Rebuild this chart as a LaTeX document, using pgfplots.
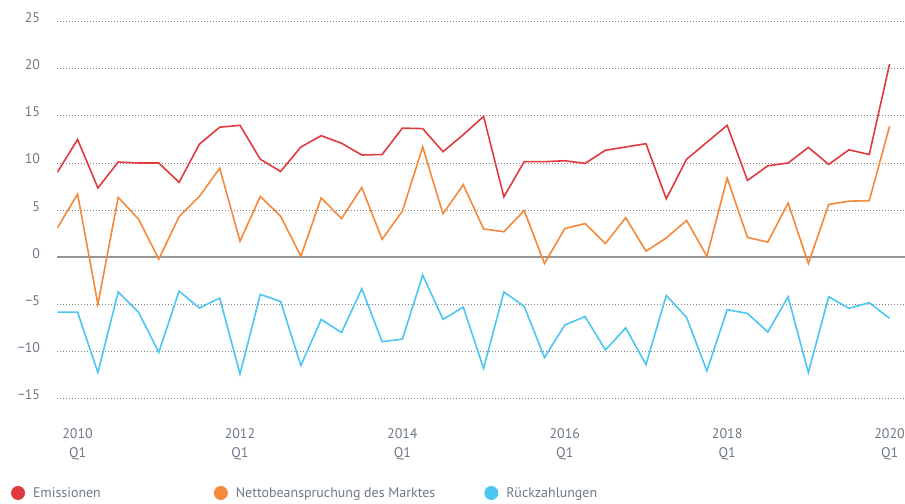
\documentclass[border=0pt]{standalone}
\usepackage{fontspec}
\setmainfont{PT Sans}
\usepackage{pgfplots}
\pgfplotsset{compat=1.18}
\definecolor{cred}{RGB}{224,58,62}
\definecolor{corange}{RGB}{245,137,58}
\definecolor{cblue}{RGB}{76,198,242}
\definecolor{ctick}{RGB}{110,120,135}
\definecolor{cgrid}{RGB}{128,128,128}
\pgfplotsset{
  circlelegend/.style={legend image code/.code={\fill[#1,draw=none] (7bp,0bp) circle (7bp);}}
}
\pgfplotstableread{
i em net rz
0 9.0 3.1 -5.83
1 12.5 6.7 -5.83
2 7.35 -5.0 -12.25
3 10.1 6.35 -3.7
4 10.0 4.05 -5.83
5 10.0 -0.2 -10.1
6 7.95 4.3 -3.6
7 12.0 6.45 -5.4
8 13.8 9.45 -4.34
9 14.0 1.7 -12.4
10 10.4 6.45 -3.95
11 9.1 4.35 -4.7
12 11.7 0.1 -11.5
13 12.9 6.3 -6.6
14 12.1 4.1 -8.0
15 10.85 7.4 -3.35
16 10.9 1.9 -8.96
17 13.7 4.9 -8.7
18 13.65 11.7 -1.9
19 11.2 4.6 -6.6
20 13.0 7.7 -5.3
21 14.95 3.0 -11.8
22 6.4 2.7 -3.7
23 10.14 4.95 -5.2
24 10.14 -0.67 -10.66
25 10.24 3.04 -7.2
26 9.96 3.57 -6.3
27 11.35 1.45 -9.85
28 11.7 4.2 -7.5
29 12.05 0.64 -11.4
30 6.2 2.05 -4.06
31 10.4 3.9 -6.4
32 12.2 0.1 -12.07
33 14.0 8.4 -5.57
34 8.15 2.1 -5.97
35 9.7 1.6 -7.94
36 10.0 5.75 -4.2
37 11.65 -0.67 -12.25
38 9.85 5.6 -4.2
39 11.4 5.95 -5.43
40 10.9 6.0 -4.83
41 20.5 13.9 -6.5
}\datatable
\begin{document}
\begin{tikzpicture}
\useasboundingbox (0,0) rectangle (905bp,504bp);
\begin{axis}[
  at={(57.3bp,105.5bp)}, anchor=south west,
  scale only axis, width=847.7bp, height=376.8bp,
  xmin=0, xmax=41.76, ymin=-15, ymax=25,
  enlargelimits=false,
  axis line style={draw=none},
  major tick length=0pt,
  tick style={draw=none},
  xtick={1,9,17,25,33,41},
  xticklabels={{2010\\Q1},{2012\\Q1},{2014\\Q1},{2016\\Q1},{2018\\Q1},{2020\\Q1}},
  ytick={-15,-10,-5,0,5,10,15,20,25},
  yticklabels={−15,−10,−5,0,5,10,15,20,25},
  ymajorgrids,
  grid style={cgrid, line width=0.8bp, dash pattern=on 1bp off 2bp},
  extra y ticks={0},
  extra y tick labels={},
  extra y tick style={grid style={solid, draw={rgb,255:red,150;green,150;blue,150}, line width=1.4bp}},
  xticklabel style={font=\fontsize{14}{19}\selectfont, text=ctick, align=center, anchor=north, inner sep=0pt, yshift=-29.5bp},
  yticklabel style={font=\fontsize{14}{17}\selectfont, text=ctick, anchor=base east, inner sep=0pt, xshift=-17bp, yshift=-1bp},
  legend columns=3,
  legend style={draw=none, fill=none, inner sep=0pt, outer sep=0pt,
    at={(axis description cs:-0.0546,-0.2508)}, anchor=west,
    font=\fontsize{14}{17}\selectfont, text=ctick,
    nodes={inner sep=0pt},
    /tikz/every odd column/.style={column sep=8bp},
    /tikz/column 2/.style={column sep=113bp},
    /tikz/column 4/.style={column sep=49bp}},
  circlelegend,
]
\addplot[cred, line width=1.6bp, no markers] table[x=i, y=em] {\datatable};
\addlegendentry{Emissionen}
\addplot[corange, line width=1.6bp, no markers] table[x=i, y=net] {\datatable};
\addlegendentry{Nettobeanspruchung des Marktes}
\addplot[cblue, line width=1.6bp, no markers] table[x=i, y=rz] {\datatable};
\addlegendentry{Rückzahlungen}
\end{axis}
\end{tikzpicture}
\end{document}
